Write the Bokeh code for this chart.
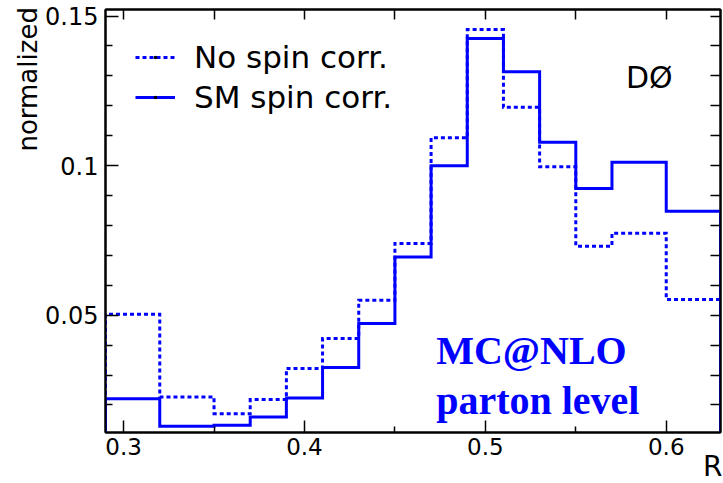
import numpy as np
from bokeh.plotting import figure
from bokeh.models import Range1d, FixedTicker, LinearAxis, Label, Legend, LegendItem, Title
from bokeh.embed import file_html
from bokeh.resources import INLINE

# Histogram bins in R and the normalized contents of both samples
bin_edges = [0.29, 0.32, 0.35, 0.37, 0.39, 0.41, 0.43, 0.45, 0.47, 0.49,
             0.51, 0.53, 0.55, 0.57, 0.60, 0.63]
no_spin_corr = [0.0503, 0.0227, 0.0171, 0.0218, 0.0322, 0.0422, 0.0550, 0.0740,
                0.1093, 0.1455, 0.1195, 0.0996, 0.0731, 0.0774, 0.0553]
sm_spin_corr = [0.0221, 0.0129, 0.0132, 0.0160, 0.0223, 0.0325, 0.0472, 0.0695,
                0.1000, 0.1425, 0.1314, 0.1078, 0.0924, 0.1011, 0.0848]

series_labels = ["No spin corr.", "SM spin corr."]

x_major_ticks = [0.3, 0.4, 0.5, 0.6]
x_tick_labels = ["0.3", "0.4", "0.5", "0.6"]
x_minor_ticks = [0.35, 0.45, 0.55]
y_major_ticks = [0.05, 0.1, 0.15]
y_tick_labels = ["0.05", "0.1", "0.15"]
y_minor_ticks = [0.02, 0.03, 0.04, 0.06, 0.07, 0.08, 0.09,
                 0.11, 0.12, 0.13, 0.14]

BLUE = "#0000ff"
FONT = "DejaVu Sans"


def outline(edges, contents):
    """Histogram outline: rises from zero at the first edge, drops at the last."""
    e = np.asarray(edges, dtype=float)
    c = np.asarray(contents, dtype=float)
    xs = np.repeat(e, 2)
    ys = np.concatenate([[0.0], np.repeat(c, 2), [0.0]])
    return xs, ys


p = figure(width=723, height=483,
           x_range=Range1d(0.29, 0.63), y_range=Range1d(0.0108, 0.1522),
           output_backend="svg", toolbar_location=None,
           min_border_left=105, min_border_right=3,
           min_border_top=9, min_border_bottom=51)
p.xgrid.visible = False
p.ygrid.visible = False
p.outline_line_color = "black"
p.outline_line_width = 2
p.background_fill_color = "white"
p.border_fill_color = "white"

# Bottom and left axes carry the labels
p.xaxis.ticker = FixedTicker(ticks=x_major_ticks, minor_ticks=x_minor_ticks)
p.xaxis.major_label_overrides = dict(zip(x_major_ticks, x_tick_labels))
p.yaxis.ticker = FixedTicker(ticks=y_major_ticks, minor_ticks=y_minor_ticks)
p.yaxis.major_label_overrides = dict(zip(y_major_ticks, y_tick_labels))

for ax, major, minor, fs, so in ((p.xaxis, 12, 6, "23px", 5),
                                 (p.yaxis, 13, 7, "24px", 7)):
    ax.axis_line_width = 2
    ax.axis_line_color = "black"
    ax.major_tick_in = major
    ax.major_tick_out = 0
    ax.minor_tick_in = minor
    ax.minor_tick_out = 0
    ax.major_tick_line_width = 1.5
    ax.minor_tick_line_width = 1.5
    ax.major_tick_line_color = "black"
    ax.minor_tick_line_color = "black"
    ax.major_label_text_font = FONT
    ax.major_label_text_font_size = fs
    ax.major_label_text_color = "black"
    ax.major_label_standoff = so

# Mirror ticks on the top and right edges: equal length, no labels
for place, ticks in (("above", x_major_ticks + x_minor_ticks),
                     ("right", y_major_ticks + y_minor_ticks)):
    ax = LinearAxis(ticker=FixedTicker(ticks=[], minor_ticks=sorted(ticks)))
    ax.axis_line_width = 2
    ax.axis_line_color = "black"
    ax.major_tick_in = 10
    ax.major_tick_out = 0
    ax.minor_tick_in = 10
    ax.minor_tick_out = 0
    ax.minor_tick_line_width = 1.5
    ax.minor_tick_line_color = "black"
    ax.major_label_standoff = 0
    p.add_layout(ax, place)

# Histograms
xs_no, ys_no = outline(bin_edges, no_spin_corr)
xs_sm, ys_sm = outline(bin_edges, sm_spin_corr)
r_no = p.line(xs_no, ys_no, line_color=BLUE, line_width=3, line_dash="4 3",
              line_join="miter")
r_sm = p.line(xs_sm, ys_sm, line_color=BLUE, line_width=3, line_join="miter")

# Small marker dot for the legend entries (a single undrawn NaN point)
dot = p.scatter(x=[np.nan], y=[np.nan], marker="dot", size=6,
                line_color="black", fill_color="black", line_width=3.5)

legend = Legend(items=[LegendItem(label=series_labels[0], renderers=[r_no, dot]),
                       LegendItem(label=series_labels[1], renderers=[r_sm, dot])],
                location="top_left", margin=0, padding=30,
                glyph_width=40, glyph_height=36, label_height=36,
                label_standoff=19, spacing=4,
                label_text_font=FONT, label_text_font_size="31px",
                label_text_color="black",
                border_line_alpha=0, background_fill_alpha=0)
p.add_layout(legend)

# Experiment tag and generator note
p.add_layout(Label(x=0.5777, y=0.1296, text="DØ", text_font=FONT,
                   text_font_size="30px", text_color="black",
                   text_baseline="alphabetic"))
p.add_layout(Label(x=0.4728, y=0.0383, text="MC@NLO",
                   text_font="Liberation Serif", text_font_style="bold",
                   text_font_size="40px", text_color=BLUE,
                   text_baseline="alphabetic"))
p.add_layout(Label(x=0.4728, y=0.0216, text="parton level",
                   text_font="Liberation Serif", text_font_style="bold",
                   text_font_size="40px", text_color=BLUE,
                   text_baseline="alphabetic"))

# Axis titles at the far ends of the axes
p.add_layout(Title(text="R", align="right", vertical_align="top",
                   offset=-2, standoff=-16, text_font=FONT,
                   text_font_size="28px", text_font_style="normal",
                   text_color="black"), "below")
p.add_layout(Label(x=0.2469, y=0.1530, text="normalized", text_font=FONT,
                   text_font_size="26px", text_color="black",
                   angle=np.pi / 2, text_align="right",
                   text_baseline="alphabetic"), "left")

open("out.html", "w").write(file_html(p, INLINE))
